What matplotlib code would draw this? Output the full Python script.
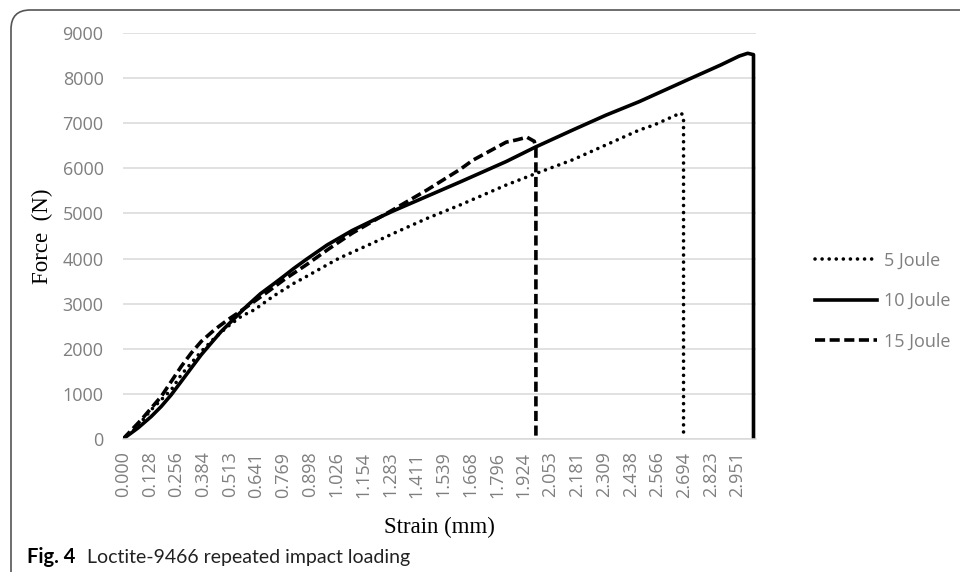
import matplotlib
matplotlib.use("Agg")
import matplotlib.pyplot as plt
from matplotlib.patches import FancyBboxPatch

# ---- data ----
strain_5J = [0, 0.06, 0.136, 0.184, 0.232, 0.28, 0.328, 0.376, 0.44, 0.504, 0.568, 0.632,
             0.72, 0.82, 0.88, 0.98, 1.04, 1.2, 1.3, 1.46, 1.62, 1.84, 1.98, 2.16, 2.32,
             2.48, 2.55, 2.68, 2.692, 2.692]
force_5J = [0, 230, 650, 871, 1093, 1425, 1685, 1942, 2240, 2497, 2719, 2867,
            3160, 3450, 3600, 3860, 4013, 4346, 4560, 4890, 5190, 5630, 5880, 6190, 6520,
            6850, 6960, 7230, 7150, 0]

strain_10J = [0, 0.072, 0.136, 0.184, 0.232, 0.28, 0.328, 0.376, 0.424, 0.472, 0.537, 0.6,
              0.66, 0.73, 0.77, 0.82, 0.88, 0.98, 1.1, 1.22, 1.3, 1.46, 1.62, 1.84, 1.98,
              2.16, 2.32, 2.48, 2.71, 2.87, 2.96, 3.0, 3.028, 3.028]
force_10J = [0, 244, 500, 723, 982, 1277, 1574, 1869, 2129, 2386, 2683, 2970,
             3220, 3460, 3600, 3780, 3980, 4300, 4620, 4890, 5060, 5380, 5700, 6150, 6470,
             6850, 7180, 7480, 7960, 8290, 8490, 8550, 8520, 0]

strain_15J = [0, 0.088, 0.136, 0.184, 0.232, 0.28, 0.328, 0.376, 0.44, 0.504, 0.552, 0.609,
              0.7, 0.77, 0.88, 0.99, 1.1, 1.22, 1.3, 1.46, 1.62, 1.68, 1.84, 1.89, 1.94,
              1.975, 1.983, 1.983]
force_15J = [0, 428, 687, 945, 1277, 1610, 1907, 2164, 2424, 2645, 2794, 2978,
             3280, 3520, 3860, 4220, 4560, 4880, 5090, 5520, 5980, 6180, 6580, 6630, 6690,
             6600, 6450, 0]

series_labels = ["5 Joule", "10 Joule", "15 Joule"]
x_tick_labels = ["0.000", "0.128", "0.256", "0.384", "0.513", "0.641", "0.769", "0.898",
                 "1.026", "1.154", "1.283", "1.411", "1.539", "1.668", "1.796", "1.924",
                 "2.053", "2.181", "2.309", "2.438", "2.566", "2.694", "2.823", "2.951"]
y_ticks = [0, 1000, 2000, 3000, 4000, 5000, 6000, 7000, 8000, 9000]

# ---- figure ----
W, H = 960, 572
fig = plt.figure(figsize=(W / 100, H / 100), dpi=100)
ax = fig.add_axes([123 / W, 1 - 439 / H, (756 - 123) / W, (439 - 33) / H])

gray_txt = "#7f7f7f"
tick_font = "Open Sans"

l5, = ax.plot(strain_5J, force_5J, color="black", lw=2.6,
              linestyle=(0, (0.01, 1.95)), dash_capstyle="round", label=series_labels[0])
l10, = ax.plot(strain_10J, force_10J, color="black", lw=2.6,
               solid_joinstyle="round", label=series_labels[1])
l15, = ax.plot(strain_15J, force_15J, color="black", lw=2.6,
               linestyle=(0, (2.8, 1.25)), dash_joinstyle="round", label=series_labels[2])

ax.set_xlim(0, 3.04)
ax.set_ylim(0, 9000)
ax.set_yticks(y_ticks)
ax.set_yticklabels([str(v) for v in y_ticks], fontsize=13, color=gray_txt, family=tick_font)
ax.set_xticks([float(s) for s in x_tick_labels])
ax.set_xticklabels(x_tick_labels, rotation=90, fontsize=13, color=gray_txt, family=tick_font)
ax.tick_params(axis="both", length=0)
ax.tick_params(axis="y", pad=14)
ax.tick_params(axis="x", pad=9)

ax.grid(axis="y", color="#d9d9d9", lw=1.1)
ax.set_axisbelow(True)
for s in ["top", "right", "left"]:
    ax.spines[s].set_visible(False)
ax.spines["bottom"].set_color("#d9d9d9")
ax.spines["bottom"].set_linewidth(1.1)

ax.set_ylabel("Force  (N)", family="Liberation Serif", fontsize=16.5, color="black")
ax.yaxis.set_label_coords((42 - 123) / (756 - 123), 0.5)
ax.yaxis.label.set_va("center")
ax.set_xlabel("Strain (mm)", family="Liberation Serif", fontsize=16.5, color="black")
ax.xaxis.set_label_coords(0.5, (439 - 527) / (439 - 33))
ax.xaxis.label.set_va("center")

leg = ax.legend(handles=[l5, l10, l15], loc="center left",
                bbox_to_anchor=(799 / W, 1 - 301 / H), bbox_transform=fig.transFigure,
                frameon=False, handlelength=3.4, handletextpad=0.4, labelspacing=1.25,
                prop={"family": tick_font, "size": 13})
for t in leg.get_texts():
    t.set_color(gray_txt)

# caption
fig.text(27 / W, 1 - 557 / H, "Fig. 4", family="Lato", fontweight="bold", fontsize=14.5,
         va="center", ha="left")
fig.text(87 / W, 1 - 557 / H, "Loctite-9466 repeated impact loading", family="Lato",
         fontsize=14, va="center", ha="left", color="#222222")

# border frame (rounded top-left)
frame = FancyBboxPatch((11 / W, -0.05), 1.2, (1 - 10 / H) + 0.05,
                       boxstyle="round,pad=0,rounding_size=0.02",
                       transform=fig.transFigure, fill=False, ec="#555555", lw=1.2,
                       clip_on=False, mutation_aspect=W / H)
fig.patches.append(frame)

fig.savefig("out.png", dpi=100)
